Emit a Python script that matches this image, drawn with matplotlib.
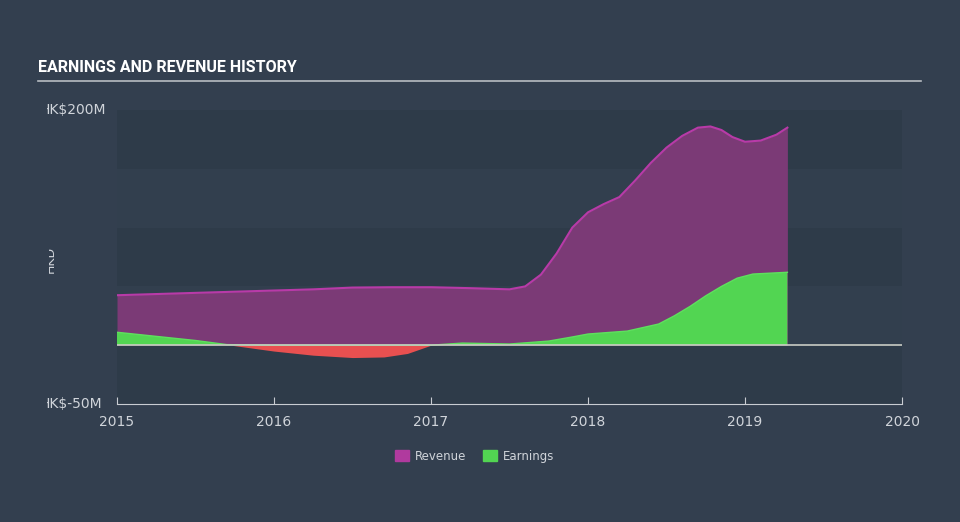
import matplotlib.pyplot as plt
from matplotlib.patches import Patch
from matplotlib.transforms import Bbox

# values in HK$ millions
rev_x = [2015.0, 2015.5, 2016.0, 2016.25, 2016.5, 2016.75, 2017.0, 2017.25, 2017.5,
         2017.6, 2017.7, 2017.8, 2017.9, 2018.0, 2018.1, 2018.2, 2018.3, 2018.4,
         2018.5, 2018.6, 2018.7, 2018.78, 2018.85, 2018.92, 2019.0, 2019.1, 2019.2, 2019.27]
rev_y = [42.5, 44.5, 46.5, 47.5, 49.0, 49.3, 49.3, 48.5, 47.5,
         50.0, 60.0, 78.0, 100.0, 113.0, 120.0, 126.0, 140.0, 155.0,
         168.0, 178.0, 185.0, 186.0, 183.0, 177.0, 173.0, 174.0, 179.0, 185.0]

earn_x = [2015.0, 2015.25, 2015.5, 2015.7, 2016.0, 2016.25, 2016.5, 2016.7, 2016.85,
          2017.0, 2017.2, 2017.5, 2017.75, 2017.9, 2018.0, 2018.25, 2018.45, 2018.55,
          2018.65, 2018.75, 2018.85, 2018.95, 2019.05, 2019.27]
earn_y = [11.0, 7.5, 4.0, 0.5, -5.0, -8.5, -10.5, -10.0, -7.0,
          0.0, 1.8, 1.0, 3.5, 7.0, 9.5, 12.0, 18.0, 25.0,
          33.0, 42.0, 50.0, 57.0, 60.5, 62.0]

years = [2015, 2016, 2017, 2018, 2019, 2020]
y_ticks = [200, -50]
y_labels = ['HK$200M', 'HK$-50M']

bg = '#333f4f'
band_dark = '#2e3b49'
band_light = '#323f4e'
text_col = '#d0d4da'

fig = plt.figure(figsize=(9.6, 5.22), dpi=100, facecolor=bg)
ax = fig.add_axes([117 / 960, 1 - 404 / 522, 785 / 960, 294 / 522])
ax.set_facecolor(band_dark)
ax.set_xlim(2015, 2020)
ax.set_ylim(-50, 200)

# alternating bands
for i, lo in enumerate(range(-50, 200, 50)):
    ax.axhspan(lo, lo + 50, color=band_dark if i % 2 == 0 else band_light, lw=0, zorder=0)

# revenue
ax.fill_between(rev_x, 0, rev_y, color='#7b3a76', lw=0, zorder=2)
ax.plot(rev_x, rev_y, color='#b83aa8', lw=1.5, zorder=3)

# earnings: green above zero, red below
ax.fill_between(earn_x, 0, earn_y, where=[v >= 0 for v in earn_y], interpolate=True,
                color='#52d552', lw=0, zorder=4)
ax.fill_between(earn_x, 0, earn_y, where=[v <= 0 for v in earn_y], interpolate=True,
                color='#e85050', lw=0, zorder=4)
ax.plot(earn_x, [max(v, 0) for v in earn_y], color='#5ee05e', lw=1, zorder=4)

ax.axhline(0, color='#c9ccc4', lw=1.2, zorder=5)

for s in ['top', 'right', 'left']:
    ax.spines[s].set_visible(False)
ax.spines['bottom'].set_color('#c8ccd2')
ax.set_xticks(years)
ax.set_xticklabels([str(y) for y in years])
ax.tick_params(axis='x', colors='#c8ccd2', labelcolor=text_col, labelsize=10,
               length=5, direction='in', pad=8)
ax.set_yticks([])

# y labels, clipped on the left like the reference
clip = Bbox.from_extents(47, 0, 960, 522)
for v, lab in zip(y_ticks, y_labels):
    t = ax.text(-77 / 785, v, lab, transform=ax.get_yaxis_transform(), fontsize=10,
                color=text_col, va='center', ha='left')
    t.set_clip_box(clip)
    t.set_clip_on(True)
t = fig.text(50 / 960, 1 - 259 / 522, 'HKD', rotation=90, fontsize=9, color=text_col,
             ha='center', va='center')
t.set_clip_box(Bbox.from_extents(49, 0, 960, 522))
t.set_clip_on(True)

# title
fig.text(38 / 960, 1 - 68 / 522, 'EARNINGS AND REVENUE HISTORY',
         family=['Roboto', 'DejaVu Sans'], fontweight='bold',
         fontsize=11.5, color='white', va='center', ha='left')
fig.add_artist(plt.Line2D([38 / 960, 921 / 960], [1 - 81 / 522, 1 - 81 / 522],
                          color='#b8bcc2', lw=1.2))

handles = [Patch(color='#b03a9e', label='Revenue'), Patch(color='#52d552', label='Earnings')]
fig.legend(handles=handles, loc='center', bbox_to_anchor=(475 / 960, 1 - 456 / 522), ncol=2,
           frameon=False, labelcolor=text_col, fontsize=8.5, handlelength=1.2,
           handleheight=1.0, columnspacing=1.4, handletextpad=0.5)

fig.savefig('out.png', facecolor=bg)
